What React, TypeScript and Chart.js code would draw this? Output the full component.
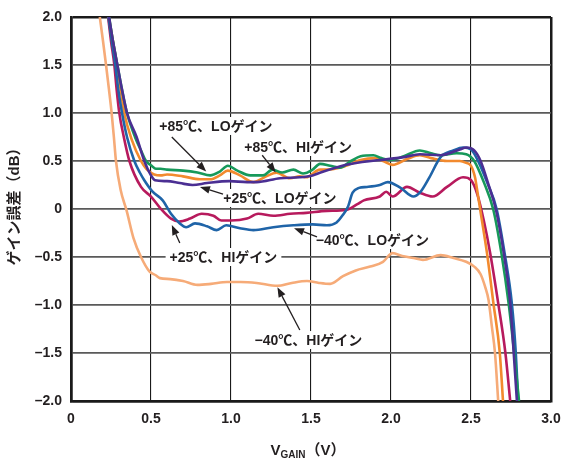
import React, { useEffect, useRef } from "react";
import { Chart, registerables } from "chart.js";
Chart.register(...registerables);

const FONT = "'Liberation Sans', 'Noto Sans CJK JP', sans-serif";

// ---- data (V_GAIN in volts, gain error in dB) ----
const v85Lo = [0.238, 0.262, 0.29, 0.318, 0.35, 0.40, 0.44, 0.469, 0.504, 0.53, 0.56, 0.6, 0.7, 0.79, 0.87, 0.93, 0.98, 1.04, 1.12, 1.2, 1.26, 1.32, 1.39, 1.45, 1.51, 1.556, 1.62, 1.68, 1.75, 1.81, 1.89, 1.94, 2.0, 2.08, 2.18, 2.25, 2.31, 2.41, 2.47, 2.52, 2.58, 2.64, 2.69, 2.735, 2.77, 2.80];
const db85Lo = [2.0, 1.75, 1.5, 1.25, 1.0, 0.75, 0.6, 0.5, 0.45, 0.42, 0.42, 0.41, 0.40, 0.38, 0.35, 0.39, 0.45, 0.40, 0.35, 0.35, 0.41, 0.38, 0.41, 0.37, 0.41, 0.47, 0.45, 0.43, 0.50, 0.55, 0.56, 0.53, 0.51, 0.55, 0.61, 0.58, 0.56, 0.58, 0.57, 0.50, 0.28, -0.01, -0.46, -0.98, -1.5, -2.0];

const v85Hi = [0.236, 0.262, 0.2875, 0.31, 0.333, 0.38, 0.4375, 0.47, 0.49, 0.52, 0.56, 0.6, 0.7, 0.806, 0.87, 0.93, 0.98, 1.056, 1.14, 1.22, 1.285, 1.37, 1.43, 1.47, 1.556, 1.6, 1.68, 1.75, 1.81, 1.9, 1.95, 2.01, 2.1, 2.18, 2.25, 2.35, 2.43, 2.47, 2.5, 2.525, 2.54, 2.558, 2.6, 2.64, 2.68, 2.70];
const db85Hi = [2.0, 1.75, 1.5, 1.25, 1.0, 0.72, 0.5, 0.42, 0.39, 0.36, 0.35, 0.36, 0.34, 0.31, 0.31, 0.35, 0.40, 0.35, 0.28, 0.34, 0.377, 0.32, 0.34, 0.33, 0.41, 0.41, 0.43, 0.47, 0.51, 0.53, 0.50, 0.46, 0.52, 0.56, 0.53, 0.50, 0.50, 0.48, 0.45, 0.33, 0.18, -0.01, -0.46, -0.98, -1.5, -2.0];

const v25Lo = [0.238, 0.262, 0.29, 0.318, 0.35, 0.41, 0.458, 0.5, 0.525, 0.6, 0.68, 0.76, 0.85, 0.99, 1.1, 1.16, 1.306, 1.43, 1.51, 1.56, 1.72, 1.82, 1.93, 2.08, 2.18, 2.31, 2.43, 2.47, 2.52, 2.56, 2.61, 2.655, 2.705, 2.745, 2.767, 2.787];
const db25Lo = [2.0, 1.75, 1.5, 1.25, 1.0, 0.75, 0.5, 0.35, 0.30, 0.29, 0.27, 0.25, 0.27, 0.29, 0.28, 0.28, 0.32, 0.33, 0.35, 0.38, 0.46, 0.49, 0.51, 0.54, 0.57, 0.56, 0.62, 0.64, 0.61, 0.50, 0.25, 0.0, -0.46, -0.98, -1.5, -2.0];

const v25Hi = [0.232, 0.25, 0.271, 0.285, 0.302, 0.33, 0.365, 0.4375, 0.5, 0.5625, 0.625, 0.677, 0.744, 0.817, 0.89, 0.94, 1.0, 1.1, 1.17, 1.265, 1.37, 1.47, 1.6, 1.72, 1.79, 1.83, 1.93, 1.97, 2.01, 2.1, 2.18, 2.26, 2.35, 2.45, 2.5, 2.54, 2.58, 2.62, 2.67, 2.715, 2.745];
const db25Hi = [2.0, 1.75, 1.5, 1.25, 1.0, 0.75, 0.5, 0.23, 0.13, 0.0, -0.10, -0.13, -0.10, -0.05, -0.07, -0.12, -0.12, -0.10, -0.05, -0.07, -0.05, -0.04, -0.02, -0.01, 0.05, 0.09, 0.13, 0.18, 0.13, 0.23, 0.17, 0.13, 0.23, 0.33, 0.30, 0.15, -0.12, -0.46, -0.98, -1.5, -2.0];

const vM40Lo = [0.234, 0.255, 0.277, 0.295, 0.319, 0.35, 0.396, 0.43, 0.458, 0.51, 0.573, 0.625, 0.68, 0.72, 0.775, 0.85, 0.91, 0.97, 1.056, 1.14, 1.265, 1.39, 1.51, 1.6, 1.66, 1.7, 1.73, 1.76, 1.8, 1.85, 1.93, 1.98, 2.06, 2.14, 2.18, 2.24, 2.31, 2.39, 2.45, 2.5, 2.55, 2.6, 2.66, 2.71, 2.755, 2.78, 2.795];
const dbM40Lo = [2.0, 1.75, 1.5, 1.25, 1.0, 0.75, 0.5, 0.38, 0.30, 0.18, 0.09, -0.05, -0.15, -0.19, -0.15, -0.18, -0.22, -0.17, -0.20, -0.22, -0.19, -0.17, -0.16, -0.17, -0.14, -0.06, 0.02, 0.17, 0.22, 0.23, 0.25, 0.28, 0.22, 0.13, 0.17, 0.33, 0.54, 0.61, 0.64, 0.62, 0.48, 0.28, 0.0, -0.46, -0.98, -1.5, -2.0];

const vM40Hi = [0.18, 0.2, 0.219, 0.237, 0.254, 0.268, 0.281, 0.31, 0.348, 0.39, 0.4375, 0.49, 0.53, 0.556, 0.62, 0.70, 0.79, 0.875, 0.975, 1.06, 1.16, 1.29, 1.38, 1.475, 1.55, 1.62, 1.70, 1.78, 1.87, 1.95, 2.01, 2.07, 2.14, 2.2, 2.31, 2.39, 2.47, 2.52, 2.56, 2.59, 2.61, 2.63, 2.65, 2.67];
const dbM40Hi = [2.0, 1.75, 1.5, 1.25, 1.0, 0.75, 0.5, 0.2, -0.02, -0.3, -0.5, -0.65, -0.69, -0.72, -0.73, -0.75, -0.79, -0.78, -0.76, -0.76, -0.77, -0.80, -0.77, -0.75, -0.77, -0.78, -0.70, -0.64, -0.60, -0.55, -0.46, -0.49, -0.51, -0.53, -0.48, -0.51, -0.55, -0.60, -0.68, -0.82, -0.95, -1.22, -1.5, -2.0];

const seriesLabels = ["+25℃、LOゲイン", "+85℃、LOゲイン", "−40℃、LOゲイン", "+85℃、HIゲイン", "+25℃、HIゲイン", "−40℃、HIゲイン"];

const xTickLabels = ["0", "0.5", "1.0", "1.5", "2.0", "2.5", "3.0"];
const yTickLabels = ["–2.0", "–1.5", "–1.0", "–0.5", "0", "0.5", "1.0", "1.5", "2.0"];

const yTitle = "ゲイン誤差（dB）";
const xTitleMain = "V";
const xTitleSub = "GAIN";
const xTitleUnit = "（V）";

// annotation labels: text centre and arrow (data coordinates)
const annotations = [
  { text: "+85℃、LOゲイン", at: [0.906, 0.865], from: [0.63, 0.75], to: [0.845, 0.39] },
  { text: "+85℃、HIゲイン", at: [1.42, 0.646], from: [1.195, 0.56], to: [1.28, 0.38] },
  { text: "+25℃、LOゲイン", at: [1.306, 0.115], from: [0.95, 0.156], to: [0.806, 0.23] },
  { text: "+25℃、HIゲイン", at: [0.953, -0.5], from: [0.68, -0.354], to: [0.63, -0.167] },
  { text: "−40℃、LOゲイン", at: [1.884, -0.323], from: [1.5375, -0.29], to: [1.394, -0.2] },
  { text: "−40℃、HIゲイン", at: [1.484, -1.365], from: [1.43, -1.26], to: [1.29, -0.815] },
];

const toPts = (xs: number[], ys: number[]) => xs.map((x, i) => ({ x, y: ys[i] }));

const LABEL_FONT = `bold 14px ${FONT}`;

const annotationPlugin = {
  id: "annots",
  beforeDatasetsDraw(chart: any) {
    const { ctx, scales } = chart;
    ctx.save();
    ctx.font = LABEL_FONT;
    ctx.fillStyle = "#ffffff";
    for (const a of annotations) {
      const cx = scales.x.getPixelForValue(a.at[0]);
      const cy = scales.y.getPixelForValue(a.at[1]);
      const w = ctx.measureText(a.text).width;
      ctx.fillRect(cx - w / 2 - 4, cy - 9, w + 8, 18);
    }
    ctx.restore();
  },
  afterDatasetsDraw(chart: any) {
    const { ctx, scales } = chart;
    ctx.save();
    ctx.font = LABEL_FONT;
    ctx.fillStyle = "#231f20";
    ctx.textAlign = "center";
    ctx.textBaseline = "middle";
    for (const a of annotations) {
      const cx = scales.x.getPixelForValue(a.at[0]);
      const cy = scales.y.getPixelForValue(a.at[1]);
      ctx.fillText(a.text, cx, cy + 1);
      const x1 = scales.x.getPixelForValue(a.from[0]);
      const y1 = scales.y.getPixelForValue(a.from[1]);
      const x2 = scales.x.getPixelForValue(a.to[0]);
      const y2 = scales.y.getPixelForValue(a.to[1]);
      const ang = Math.atan2(y2 - y1, x2 - x1);
      const L = 10, H = 3.8;
      const bx = x2 - L * Math.cos(ang), by = y2 - L * Math.sin(ang);
      ctx.strokeStyle = "#231f20";
      ctx.lineWidth = 1.3;
      ctx.beginPath();
      ctx.moveTo(x1, y1);
      ctx.lineTo(bx, by);
      ctx.stroke();
      ctx.beginPath();
      ctx.moveTo(x2, y2);
      ctx.lineTo(bx + H * Math.sin(ang), by - H * Math.cos(ang));
      ctx.lineTo(bx - H * Math.sin(ang), by + H * Math.cos(ang));
      ctx.closePath();
      ctx.fill();
    }
    ctx.restore();
  },
  afterDraw(chart: any) {
    const { ctx, chartArea } = chart;
    ctx.save();
    ctx.fillStyle = "#231f20";
    // y title
    ctx.font = `bold 15px ${FONT}`;
    ctx.textAlign = "center";
    ctx.textBaseline = "middle";
    ctx.translate(15, (chartArea.top + chartArea.bottom) / 2 - 6);
    ctx.rotate(-Math.PI / 2);
    ctx.fillText(yTitle, 0, 0);
    ctx.restore();
    // x title with subscript
    ctx.save();
    ctx.fillStyle = "#231f20";
    ctx.textBaseline = "alphabetic";
    ctx.textAlign = "left";
    const big = `bold 15px ${FONT}`;
    const small = `bold 10px ${FONT}`;
    ctx.font = big;
    const w1 = ctx.measureText(xTitleMain).width;
    const w3 = ctx.measureText(xTitleUnit).width;
    ctx.font = small;
    const w2 = ctx.measureText(xTitleSub).width;
    const total = w1 + w2 + w3;
    let x = (chartArea.left + chartArea.right) / 2 - 3 - total / 2;
    const base = 455;
    ctx.font = big;
    ctx.fillText(xTitleMain, x, base);
    x += w1;
    ctx.font = small;
    ctx.fillText(xTitleSub, x, base + 3);
    x += w2;
    ctx.font = big;
    ctx.fillText(xTitleUnit, x, base);
    ctx.restore();
  },
};

export default function App() {
  const ref = useRef<HTMLCanvasElement>(null);
  useEffect(() => {
    document.body.style.margin = "0";
    const mk = (label: string, xs: number[], ys: number[], color: string) => ({
      label,
      data: toPts(xs, ys),
      borderColor: color,
      backgroundColor: color,
      borderWidth: 2.6,
      pointRadius: 0,
      fill: false,
      cubicInterpolationMode: "monotone" as const,
    });
    const chart = new Chart(ref.current!, {
      type: "line",
      data: {
        datasets: [
          mk(seriesLabels[0], v25Lo, db25Lo, "#4b2f93"),
          mk(seriesLabels[1], v85Lo, db85Lo, "#17995a"),
          mk(seriesLabels[2], vM40Lo, dbM40Lo, "#1f64a8"),
          mk(seriesLabels[3], v85Hi, db85Hi, "#f28a2e"),
          mk(seriesLabels[4], v25Hi, db25Hi, "#b71a5d"),
          mk(seriesLabels[5], vM40Hi, dbM40Hi, "#f6ab78"),
        ],
      },
      options: {
        responsive: false,
        animation: false,
        layout: { padding: { top: 17, right: 12, left: 0, bottom: 0 } },
        plugins: { legend: { display: false }, tooltip: { enabled: false } },
        scales: {
          x: {
            type: "linear",
            min: 0,
            max: 3,
            afterFit: (s: any) => { s.height = 58; s.paddingLeft = 0; s.paddingRight = 0; },
            ticks: {
              stepSize: 0.5,
              padding: 10,
              color: "#231f20",
              font: { family: FONT, size: 14, weight: "bold" },
              callback: (v: any) => xTickLabels[Math.round(Number(v) / 0.5)],
            },
            grid: {
              drawTicks: false,
              color: "#1a1a1a",
              lineWidth: (c: any) => (c.tick && (c.tick.value === 0 || c.tick.value === 3) ? 2.5 : 1.1),
            },
            border: { display: true, color: "#1a1a1a", width: 2.5 },
          },
          y: {
            type: "linear",
            min: -2,
            max: 2,
            afterFit: (s: any) => { s.width = 71; s.paddingTop = 0; s.paddingBottom = 0; },
            ticks: {
              stepSize: 0.5,
              padding: 9,
              color: "#231f20",
              font: { family: FONT, size: 14, weight: "bold" },
              callback: (v: any) => yTickLabels[Math.round((Number(v) + 2) / 0.5)],
            },
            grid: {
              drawTicks: false,
              color: (c: any) => (c.tick && Math.abs(c.tick.value) === 2 ? "#1a1a1a" : "#5a5a5a"),
              lineWidth: (c: any) => (c.tick && Math.abs(c.tick.value) === 2 ? 2.5 : 1.8),
            },
            border: { display: true, color: "#1a1a1a", width: 2.5 },
          },
        },
      } as any,
      plugins: [annotationPlugin],
    });
    return () => chart.destroy();
  }, []);
  return (
    <div style={{ width: 563, height: 459 }}>
      <canvas ref={ref} width={563} height={459} style={{ display: "block" }} />
    </div>
  );
}
